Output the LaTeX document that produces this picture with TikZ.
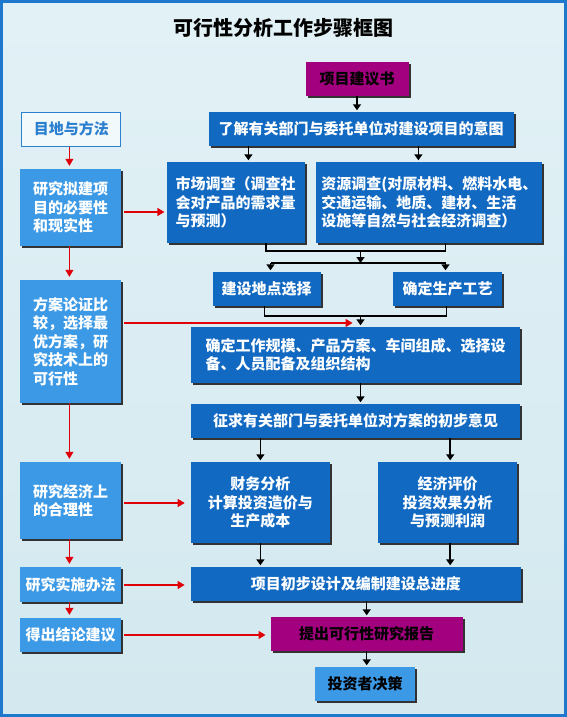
\documentclass[tikz,border=0pt]{standalone}
\usepackage{fontspec}
\setmainfont{Noto Sans CJK SC}
\usetikzlibrary{arrows.meta,shadows}

\definecolor{bgtop}{HTML}{E2F1F6}
\definecolor{bgbottom}{HTML}{D3E9EF}
\definecolor{frameblue}{HTML}{1E78CC}
\definecolor{darkblue}{HTML}{1169C2}
\definecolor{lightblue}{HTML}{3C99E6}
\definecolor{plum}{HTML}{A2007F}
\definecolor{goalblue}{HTML}{2A7FCF}
\definecolor{redline}{HTML}{E0000A}

\tikzset{
  plain/.style={rectangle, inner sep=0pt, align=left,
    font=\fontsize{15}{18.5}\selectfont\bfseries},
  box/.style={plain,
    drop shadow={shadow xshift=2pt, shadow yshift=-2pt, opacity=1, fill=black!80}},
  bluebox/.style={box, fill=darkblue, text=white},
  sidebox/.style={box, fill=lightblue, text=white},
  plumbox/.style={box, fill=plum, text=black},
  goalbox/.style={plain, fill=white!55!bgtop, draw=goalblue, line width=1pt, text=goalblue},
  flow/.style={black, line width=1.5pt, shorten >=1.5pt, -{Triangle[width=8pt,length=6pt]}},
  link/.style={black, line width=1.5pt},
  redflow/.style={redline, line width=1.2pt, shorten <=3pt, shorten >=3pt, -{Triangle[width=8pt,length=7pt]}},
}

\begin{document}
\begin{tikzpicture}[x=1pt, y=-1pt]
\useasboundingbox (0,0) rectangle (567,717);
\shade[top color=bgtop, bottom color=bgbottom] (0,0) rectangle (567,717);
\draw[frameblue, line width=3pt] (1.5,1.5) rectangle (565.5,715.5);

% title
\node[font=\fontsize{20}{24}\selectfont\bfseries] (title) at (283.5,28) {可行性分析工作步骤框图};

% left column
\node[goalbox, minimum width=99pt, minimum height=34pt] (goal) at (71.4,129) {目地与方法};
\node[sidebox, minimum width=101pt, minimum height=77pt] (need) at (70.5,207.5) {研究拟建项\\目的必要性\\和现实性};
\node[sidebox, minimum width=101pt, minimum height=123pt] (compare) at (70.5,341.5) {方案论证比\\较，选择最\\优方案，研\\究技术上的\\可行性};
\node[sidebox, minimum width=101pt, minimum height=77pt] (econ) at (70.5,500.5) {研究经济上\\的合理性};
\node[sidebox, minimum width=101pt, minimum height=35pt] (impl) at (70.5,584.5) {研究实施办法};
\node[sidebox, minimum width=101pt, minimum height=34pt] (conclude) at (70.5,635) {得出结论建议};

% main flow
\node[plumbox, minimum width=103pt, minimum height=34pt] (prop) at (357,79) {项目建议书};
\node[bluebox, minimum width=305pt, minimum height=34pt] (intent) at (361,129) {了解有关部门与委托单位对建设项目的意图};
\node[bluebox, minimum width=138pt, minimum height=81pt] (market) at (235.6,202.5) {市场调查（调查社\\会对产品的需求量\\与预测）};
\node[bluebox, minimum width=226pt, minimum height=81pt] (resource) at (429.4,202.5) {资源调查(对原材料、燃料水电、\\交通运输、地质、建材、生活\\设施等自然与社会经济调查）};
\node[bluebox, minimum width=108pt, minimum height=34pt] (site) at (266.5,289) {建设地点选择};
\node[bluebox, minimum width=109pt, minimum height=34pt] (tech) at (447.5,289) {确定生产工艺};
\node[bluebox, minimum width=329pt, minimum height=56pt] (scale) at (355.5,355) {确定工作规模、产品方案、车间组成、选择设\\备、人员配备及组织结构};
\node[bluebox, minimum width=329pt, minimum height=34pt] (opinion) at (355.5,421) {征求有关部门与委托单位对方案的初步意见};
\node[bluebox, align=center, minimum width=139pt, minimum height=81pt] (finance) at (260.4,502.5) {财务分析\\计算投资造价与\\生产成本};
\node[bluebox, align=center, minimum width=139pt, minimum height=81pt] (evaluate) at (447.5,502.5) {经济评价\\投资效果分析\\与预测利润};
\node[bluebox, minimum width=330pt, minimum height=34pt] (design) at (355.8,584) {项目初步设计及编制建设总进度};
\node[plumbox, minimum width=192pt, minimum height=34pt] (report) at (366.7,634) {提出可行性研究报告};
\node[sidebox, text=black, minimum width=100pt, minimum height=34pt] (decide) at (365.2,684) {投资者决策};

% black connectors
\draw[flow] (prop.south) -- (prop.south |- intent.north);
\draw[flow] (intent.south -| 248.4,0) -- (market.north -| 248.4,0);
\draw[flow] (intent.south -| 418.4,0) -- (resource.north -| 418.4,0);
\draw[link] (market.south -| 265.8,0) -- (265.8,251) -- (445.5,251) -- (resource.south -| 445.5,0);
\draw[flow, shorten >=0pt] (360.5,251) -- (360.5,263);
\draw[link] (270.5,263) -- (445.5,263);
\draw[flow] (270.5,263) -- (site.north -| 270.5,0);
\draw[flow] (445.5,263) -- (tech.north -| 445.5,0);
\draw[link] (site.south -| 264.7,0) -- (264.7,316) -- (446.6,316) -- (tech.south -| 446.6,0);
\draw[flow] (360.5,316) -- (scale.north -| 360.5,0);
\draw[flow] (scale.south -| 360.5,0) -- (opinion.north -| 360.5,0);
\draw[flow] (opinion.south -| finance) -- (finance.north);
\draw[flow] (opinion.south -| 450.2,0) -- (evaluate.north -| 450.2,0);
\draw[flow] (finance.south) -- (finance.south |- design.north);
\draw[flow] (evaluate.south -| 450.2,0) -- (design.north -| 450.2,0);
\draw[flow] (design.south -| report) -- (report.north);
\draw[flow] (report.south) -- (report.south |- decide.north);

% red connectors
\draw[redflow, shorten <=0pt] (goal.south -| 69.4,0) -- (need.north -| 69.4,0);
\draw[redflow, shorten <=0pt] (need.south -| 69.4,0) -- (compare.north -| 69.4,0);
\draw[redflow, shorten <=0pt] (compare.south -| 69.4,0) -- (econ.north -| 69.4,0);
\draw[redflow, shorten <=0pt] (econ.south -| 69.4,0) -- (impl.north -| 69.4,0);
\draw[redflow, shorten <=0pt] (impl.south -| 69.4,0) -- (conclude.north -| 69.4,0);
\draw[redflow, shorten >=2pt] (need.east |- 0,212) -- (market.west |- 0,212);
\draw[redflow, shorten >=0pt] (compare.east |- 0,323) -- (352.6,323);
\draw[redflow, shorten >=6pt] (econ.east |- 0,503) -- (finance.west |- 0,503);
\draw[redflow, shorten >=6pt] (impl.east |- 0,585) -- (design.west |- 0,585);
\draw[redflow, shorten >=5pt] (conclude.east |- 0,635) -- (report.west |- 0,635);
\end{tikzpicture}
\end{document}
